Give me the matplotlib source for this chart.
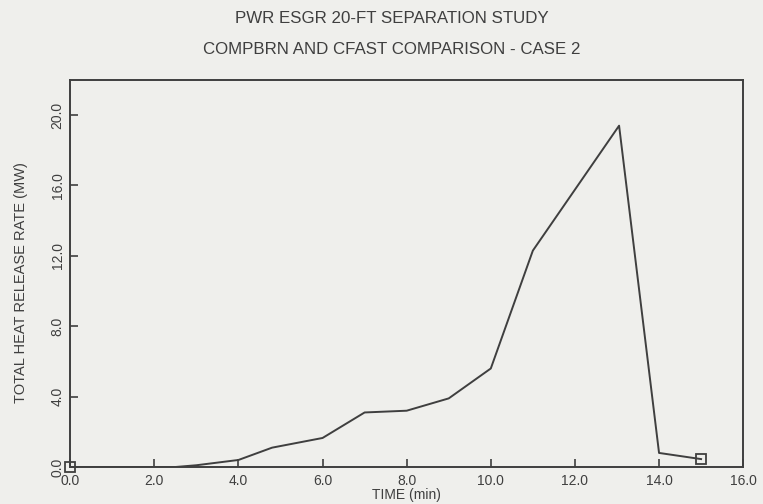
import numpy as np
import matplotlib.pyplot as plt
from matplotlib import ticker

# valeurs
temps = [0.0, 2.5, 3.0, 4.0, 4.8, 6.0, 7.0, 8.0, 9.0, 10.0, 11.0, 13.05, 14.0, 15.0]
puissance = [0.0, 0.0, 0.1, 0.4, 1.1, 1.65, 3.1, 3.2, 3.9, 5.6, 12.3, 19.4, 0.8, 0.45]

fond = '#efefec'
encre = '#3f3f3f'

plt.rcParams['font.family'] = ['Liberation Sans', 'DejaVu Sans']

fig = plt.figure(figsize=(7.63, 5.04), dpi=100, facecolor=fond)
ax = fig.add_axes([0.092, 0.0734, 0.882, 0.768], facecolor=fond)

ax.plot(temps, puissance, color=encre, lw=1.4)
ax.plot([temps[0], temps[-1]], [puissance[0], puissance[-1]], 's', mfc='none',
        mec=encre, ms=7, mew=1.3, clip_on=False)

ax.set_xlim(0, 16)
ax.set_ylim(0, 22)
ax.xaxis.set_major_locator(ticker.MultipleLocator(2))
ax.yaxis.set_major_locator(ticker.MultipleLocator(4))
ax.xaxis.set_major_formatter(ticker.FormatStrFormatter('%.1f'))
ax.yaxis.set_major_formatter(ticker.FormatStrFormatter('%.1f'))
ax.tick_params(direction='in', length=6, width=1.2, colors=encre, labelsize=10,
               top=False, right=False)
ax.tick_params(axis='y', labelrotation=90, pad=4)
ax.tick_params(axis='x', pad=5)
for lab in ax.get_yticklabels():
    lab.set_va('center')
for sp in ax.spines.values():
    sp.set_color(encre)
    sp.set_linewidth(1.4)

ax.set_xlabel("TIME (min)", fontsize=10, color=encre, labelpad=0)
ax.set_ylabel("TOTAL HEAT RELEASE RATE (MW)", fontsize=10.5, color=encre)
ax.yaxis.set_label_coords(-0.062, 0.476)

fig.text(0.514, 0.964, "PWR ESGR 20-FT SEPARATION STUDY", ha='center', va='center',
         fontsize=12.2, color=encre)
fig.text(0.514, 0.902, "COMPBRN AND CFAST COMPARISON - CASE 2", ha='center', va='center',
         fontsize=12.2, color=encre)

plt.savefig('out.png', dpi=100, facecolor=fond)
